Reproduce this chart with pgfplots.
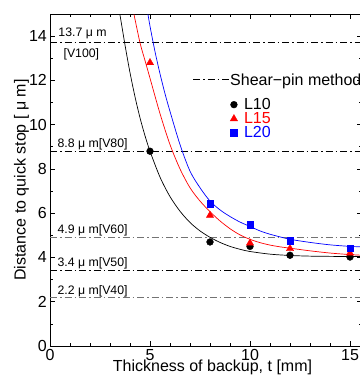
\documentclass[border=0pt]{standalone}
\usepackage{fontspec}
\setmainfont{Liberation Sans}
\usepackage{pgfplots}
\pgfplotsset{compat=1.18}
\pgfplotsset{markleg/.style={legend image code/.code={\draw[##1] plot coordinates {(0pt,0pt)};}}}
\begin{document}
\begin{tikzpicture}
\begin{axis}[
  at={(50pt,36pt)}, anchor=south west,
  scale only axis, width=312pt, height=332pt,
  xmin=0, xmax=15.6, ymin=0, ymax=15,
  xtick={0,5,10,15}, ytick={0,2,4,6,8,10,12,14},
  minor x tick num=4, minor y tick num=1,
  tick align=inside,
  major tick length=5pt, minor tick length=3pt,
  axis line style={line width=0.8pt},
  every tick/.style={black, line width=0.6pt},
  tick label style={font=\fontsize{16}{18}\selectfont},
  /pgf/number format/assume math mode=true,
  xticklabel style={inner sep=0pt, yshift=-3pt},
  yticklabel style={inner sep=0pt, xshift=-3pt},
  xlabel={Thickness of backup, t [mm]},
  ylabel={Distance to quick stop [ μ m]},
  every axis x label/.style={at={(axis description cs:0.5208,-0.0768)}, anchor=base, font=\fontsize{16}{18}\selectfont},
  every axis y label/.style={at={(axis description cs:-0.0785,0.5)}, anchor=base, rotate=90, font=\fontsize{16}{18}\selectfont},
  legend style={at={(axis cs:9.015,11.19)}, anchor=north west, draw=none, fill=none,
    inner sep=0pt, outer sep=0pt, row sep=1.5pt, column sep=6.5pt,
    nodes={inner sep=0pt, font=\fontsize{16}{18}\selectfont}},
  legend cell align=left,
]
% shear-pin reference lines
\addplot[black, line width=0.9pt, dash pattern=on 7pt off 3pt on 1.5pt off 3pt, forget plot]
  coordinates {(0,13.7) (15.6,13.7)};
\addplot[black, line width=0.9pt, dash pattern=on 7pt off 3pt on 1.5pt off 3pt, forget plot]
  coordinates {(0,8.8) (15.6,8.8)};
\addplot[black!55, line width=0.9pt, dash pattern=on 7pt off 3pt on 1.5pt off 3pt, forget plot]
  coordinates {(0,4.9) (15.6,4.9)};
\addplot[black, line width=0.9pt, dash pattern=on 7pt off 3pt on 1.5pt off 3pt, forget plot]
  coordinates {(0,3.4) (15.6,3.4)};
\addplot[black!55, line width=0.9pt, dash pattern=on 7pt off 3pt on 1.5pt off 3pt, forget plot]
  coordinates {(0,2.2) (15.6,2.2)};
% fitted curves
\addplot[black, line width=0.7pt, smooth, forget plot] coordinates {
 (3.5,14.96) (3.75,13.6) (4,12.35) (4.25,11.26) (4.5,10.31) (4.75,9.5) (5,8.8)
 (5.5,7.63) (6,6.75) (6.5,6.09) (7,5.58) (7.5,5.2) (8,4.91) (8.5,4.68)
 (9,4.5) (9.5,4.37) (10,4.27) (11,4.15) (12,4.09) (13,4.06) (14,4.05) (15,4.04) (15.6,4.04)};
\addplot[red, line width=0.7pt, smooth, forget plot] coordinates {
 (4.2,14.98) (4.5,13.7) (4.75,12.9) (5,12.1) (5.5,10.5) (6,9.1) (6.5,8.0)
 (7,7.15) (7.5,6.55) (8,6.07) (8.5,5.65) (9,5.3) (9.5,5.02) (10,4.82)
 (10.5,4.67) (11,4.56) (11.5,4.48) (12,4.42) (13,4.3) (14,4.2) (15,4.13) (15.6,4.1)};
\addplot[blue, line width=0.7pt, smooth, forget plot] coordinates {
 (4.9,14.98) (5.0,14.45) (5.25,13.3) (5.5,12.3) (5.75,11.4) (6,10.6) (6.5,9.1)
 (7,7.9) (7.5,7.15) (8,6.55) (8.5,6.15) (9,5.85) (9.5,5.6) (10,5.4)
 (10.5,5.2) (11,5.05) (11.5,4.93) (12,4.82) (13,4.68) (14,4.57) (15,4.5) (15.6,4.48)};
% measured data
\addplot[only marks, mark=*, black, mark size=3.4pt, markleg]
  coordinates {(5,8.8) (8,4.7) (10,4.5) (12,4.1) (15,4.02)};
\addlegendentry{L10}
\addplot[only marks, mark=triangle*, red, mark size=4.2pt, markleg]
  coordinates {(5,12.8) (8,5.9) (10,4.65) (12,4.4) (15,4.2)};
\addlegendentry{\textcolor{red}{L15}}
\addplot[only marks, mark=square*, blue, mark size=3.3pt, markleg]
  coordinates {(8,6.43) (10,5.47) (12,4.77) (15,4.42)};
\addlegendentry{\textcolor{blue}{L20}}
% shear-pin legend sample
\draw[black, line width=0.9pt, dash pattern=on 7pt off 3pt on 1.5pt off 3pt]
  (axis cs:7.15,12.06) -- (axis cs:8.95,12.06);
\node[anchor=base west, inner sep=0pt, font=\fontsize{16}{18}\selectfont] at (axis cs:9.0,11.77) {Shear−pin method};
% line labels
\node[anchor=base west, inner sep=0pt, font=\fontsize{12.3}{14}\selectfont] at (axis cs:0.415,13.97) {13.7 μ m};
\node[anchor=base west, inner sep=0pt, font=\fontsize{12.3}{14}\selectfont] at (axis cs:0.67,13.04) {[V100]};
\node[anchor=base west, inner sep=0pt, font=\fontsize{12.3}{14}\selectfont] at (axis cs:0.37,8.96) {8.8 μ m[V80]};
\node[anchor=base west, inner sep=0pt, font=\fontsize{12.3}{14}\selectfont] at (axis cs:0.37,5.09) {4.9 μ m[V60]};
\node[anchor=base west, inner sep=0pt, font=\fontsize{12.3}{14}\selectfont] at (axis cs:0.37,3.58) {3.4 μ m[V50]};
\node[anchor=base west, inner sep=0pt, font=\fontsize{12.3}{14}\selectfont] at (axis cs:0.37,2.34) {2.2 μ m[V40]};
\end{axis}
\pgfresetboundingbox
\useasboundingbox (0pt,0pt) rectangle (359pt,382pt);
\end{tikzpicture}
\end{document}
